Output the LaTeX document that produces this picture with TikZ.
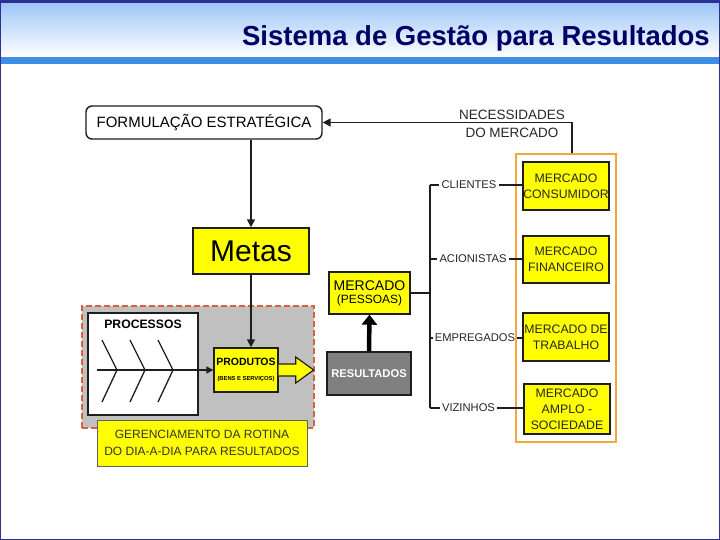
\documentclass[tikz,border=0pt]{standalone}
\usepackage{fontspec}
\setmainfont{Liberation Sans}
\usetikzlibrary{arrows.meta,positioning,calc}
\definecolor{navy}{HTML}{000066}
\definecolor{moldura}{HTML}{2E3192}
\definecolor{ceu}{HTML}{9EC6F7}
\definecolor{faixa}{HTML}{3F8EE6}
\definecolor{amarelo}{HTML}{FFFF00}
\definecolor{cinza}{HTML}{C0C0C0}
\definecolor{tracejado}{HTML}{D9623B}
\definecolor{laranja}{HTML}{F2A541}
\definecolor{escuro}{HTML}{1E1E1E}
\newcommand\fsz[2]{\fontsize{#1}{#2}\selectfont}

\begin{document}
\begin{tikzpicture}[x=1pt, y=-1pt,
  ybox/.style={draw=escuro, line width=1.4pt, fill=amarelo, align=center, inner sep=0pt},
  mbox/.style={ybox, minimum width=86pt, font=\fsz{12.3}{16}, text=black!85},
  lbl/.style={font=\fsz{11.2}{13}, inner sep=2pt, text=black!85},
  arr/.style={-{Triangle[length=8pt,width=8pt]}, line width=1.6pt, escuro},
  wire/.style={line width=1.6pt, escuro}]
  \useasboundingbox (0,0) rectangle (720,540);
  % moldura e titulo
  \fill[white] (0,0) rectangle (720,540);
  \shade[top color=ceu, bottom color=white] (1,3) rectangle (719,57);
  \fill[faixa] (1,57) rectangle (719,64);
  \draw[moldura, line width=2.5pt] (0,0) rectangle (720,540);
  \fill[moldura] (0,0) rectangle (720,3);
  \node[anchor=base east, font=\fsz{27.5}{30}\bfseries, text=navy, inner sep=0pt] (titulo) at (710,46) {Sistema de Gestão para Resultados};

  % lado esquerdo
  \node[draw=escuro, line width=1.4pt, rounded corners=6pt, fill=white, minimum width=236pt, minimum height=33pt, inner sep=0pt, font=\fsz{15}{18}] (form) at (204,122.5) {FORMULAÇÃO ESTRATÉGICA};
  \node[ybox, minimum width=116pt, minimum height=46pt, font=\fsz{30}{34}] (metas) at (251,251) {Metas};
  \node[fill=cinza, draw=tracejado, dash pattern=on 6pt off 3pt, line width=1.4pt, minimum width=232pt, minimum height=122pt] (rotina) at (198,367) {};
  \node[draw=escuro, line width=1.4pt, fill=white, minimum width=110pt, minimum height=102pt] (proc) at (143,364) {};
  \node[font=\fsz{12.2}{14}\bfseries, below=4pt of proc.north] (proctit) {PROCESSOS};
  \node[ybox, minimum width=64pt, minimum height=44pt] (prod) at (246,370) {{\fsz{10.5}{12}\bfseries PRODUTOS}\\[3pt]{\fsz{5.8}{6}\bfseries (BENS E SERVIÇOS)}};
  \node[ybox, line width=1pt, draw=escuro!70, minimum width=210pt, minimum height=46pt, font=\fsz{12}{17}, text=black!80] (gerenc) at (202,443) {GERENCIAMENTO DA ROTINA\\DO DIA-A-DIA PARA RESULTADOS};
  \coordinate (spine) at (97,370);
  \foreach \x in {117,145,173}
    \draw[wire, line width=1.3pt] (\x-15,340) -- (\x,370) -- (\x-15,402);
  \draw[arr, line width=1.3pt, -{Triangle[length=7pt,width=7pt]}] (spine) -- (prod.west);
  \draw[fill=amarelo, draw=escuro, line width=1.2pt] ($(prod.east)+(0,-6)$) -- ++(17,0) -- ++(0,-7) -- ++(18,13) -- ++(-18,13) -- ++(0,-7) -- ++(-17,0);
  \draw[arr] (form.south -| metas) -- (metas.north);
  \draw[arr] (metas.south) -- (metas.south |- prod.north);

  % centro
  \node[ybox, minimum width=81pt, minimum height=42pt] (pessoas) at (369.5,293) {{\fsz{14}{16}MERCADO}\\[1pt]{\fsz{12}{14}(PESSOAS)}};
  \node[draw=escuro, line width=1.4pt, fill=black!50, text=white, minimum width=84pt, minimum height=43pt, inner sep=0pt, font=\fsz{11.2}{13}\bfseries] (result) at (369,373.5) {RESULTADOS};
  \draw[line width=4.5pt, -{Triangle[length=10pt,width=15pt]}] (result.north) -- (pessoas.south);

  % mercados
  \node[draw=laranja, line width=1.6pt, minimum width=100pt, minimum height=288pt] (mercados) at (566,298) {};
  \node[mbox, minimum height=48pt] (consum) at (566,186) {MERCADO\\CONSUMIDOR};
  \node[mbox, minimum height=47pt] (financ) at (566,259.5) {MERCADO\\FINANCEIRO};
  \node[mbox, minimum height=48pt] (trab) at (566,337) {MERCADO DE\\TRABALHO};
  \node[mbox, minimum height=50pt] (amplo) at (567,409) {MERCADO\\AMPLO -\\SOCIEDADE};
  \node[font=\fsz{13.5}{18}, align=center, text=black!85] (necess) at (512,124) {NECESSIDADES\\DO MERCADO};
  \draw[arr] ([xshift=6pt]mercados.north) |- (form.east);

  % publicos
  \node[lbl] (clientes) at (469,185) {CLIENTES};
  \node[lbl] (acion) at (473,259) {ACIONISTAS};
  \node[lbl] (empreg) at (475,338) {EMPREGADOS};
  \node[lbl] (vizin) at (468.5,408) {VIZINHOS};
  \coordinate (t1) at (430,185);
  \coordinate (t2) at (430,259);
  \coordinate (t3) at (430,338);
  \coordinate (t4) at (430,408);
  \draw[wire, line width=2pt] (t1) -- (t4);
  \draw[wire] (t1) -- (clientes.west) (clientes.east) -- (clientes.east -| consum.west);
  \draw[wire] (t2) -- (acion.west) (acion.east) -- (acion.east -| financ.west);
  \draw[wire] (t3) -- (empreg.west) (empreg.east) -- (empreg.east -| trab.west);
  \draw[wire] (t4) -- (vizin.west) (vizin.east) -- (vizin.east -| amplo.west);
  \draw[wire] (pessoas.east) -- (pessoas.east -| t1);
\end{tikzpicture}
\end{document}
